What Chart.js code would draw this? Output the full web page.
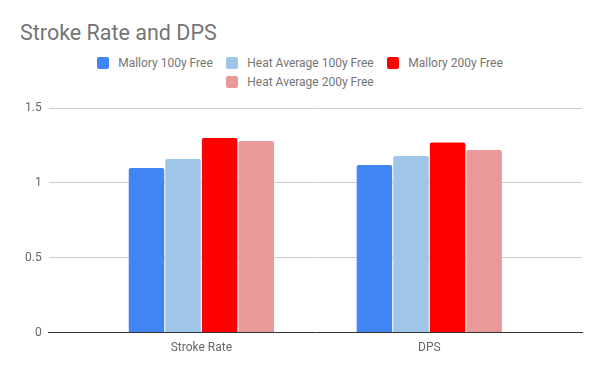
<!DOCTYPE html>
<html>
<head>
<meta charset="utf-8">
<script src="https://cdn.jsdelivr.net/npm/chart.js@4"></script>
<style>
  body { margin: 0; background: #fff; }
  .wrap { position: relative; width: 600px; height: 371px; font-family: Roboto, sans-serif; }
  .title { position: absolute; left: 20px; top: 22px; font-size: 21.5px; line-height: 21.5px; color: #757575; white-space: nowrap; }
  .legend { position: absolute; left: 70px; top: 54px; width: 460px; display: flex; flex-wrap: wrap; justify-content: center; column-gap: 13.5px; }
  .legend-item { display: flex; align-items: center; height: 18.5px; font-size: 12px; color: #757575; }
  .legend-box { width: 12px; height: 12px; border-radius: 2px; margin-right: 9px; }
  canvas { position: absolute; left: 0; top: 0; }
</style>
</head>
<body>
<div class="wrap">
  <div class="title">Stroke Rate and DPS</div>
  <div class="legend" id="legend"></div>
  <canvas id="chartSwim" width="600" height="371"></canvas>
</div>
<script>
const categories = ["Stroke Rate", "DPS"];
const mallory100 = [1.10, 1.12];
const heatAvg100 = [1.16, 1.18];
const mallory200 = [1.30, 1.27];
const heatAvg200 = [1.28, 1.22];
const yTicks = [0, 0.5, 1, 1.5];

const series = [
  { label: "Mallory 100y Free", data: mallory100, color: "#4285f4" },
  { label: "Heat Average 100y Free", data: heatAvg100, color: "#9fc5e8" },
  { label: "Mallory 200y Free", data: mallory200, color: "#ff0000" },
  { label: "Heat Average 200y Free", data: heatAvg200, color: "#ea9999" }
];

// legend as html so it wraps like the original
const legendEl = document.getElementById("legend");
series.forEach(s => {
  const item = document.createElement("div");
  item.className = "legend-item";
  item.innerHTML = `<span class="legend-box" style="background:${s.color}"></span><span>${s.label}</span>`;
  legendEl.appendChild(item);
});

const ctx = document.getElementById("chartSwim").getContext("2d");

new Chart(ctx, {
  type: "bar",
  data: {
    datasets: series.map(s => ({
      label: s.label,
      data: s.data.map((v, i) => ({ x: i, y: v })),
      backgroundColor: s.color,
      borderRadius: { topLeft: 2, topRight: 2 },
      borderSkipped: "start",
      categoryPercentage: 0.642,
      barPercentage: 0.97
    }))
  },
  options: {
    responsive: false,
    animation: false,
    layout: {
      padding: { top: 108, left: 18, right: 18, bottom: 8 }
    },
    plugins: {
      legend: { display: false },
      title: { display: false },
      tooltip: { enabled: false }
    },
    scales: {
      x: {
        type: "linear",
        offset: false,
        bounds: "data",
        min: -0.67,
        max: 1.67,
        afterBuildTicks: scale => {
          scale.ticks = categories.map((c, i) => ({ value: i }));
        },
        ticks: {
          color: "#666",
          padding: 8,
          maxRotation: 0,
          font: { family: "Roboto", size: 12 },
          callback: value => categories[value] ?? ""
        },
        grid: { drawOnChartArea: false, drawTicks: false },
        border: { display: true, color: "#333", width: 1 }
      },
      y: {
        min: 0,
        max: 1.5,
        afterBuildTicks: scale => {
          scale.ticks = yTicks.map(v => ({ value: v }));
        },
        ticks: {
          color: "#666",
          padding: 7,
          font: { family: "Roboto", size: 12 },
          callback: value => String(value)
        },
        grid: { color: "#cccccc", drawTicks: false },
        border: { display: false }
      }
    }
  }
});
</script>
</body>
</html>
